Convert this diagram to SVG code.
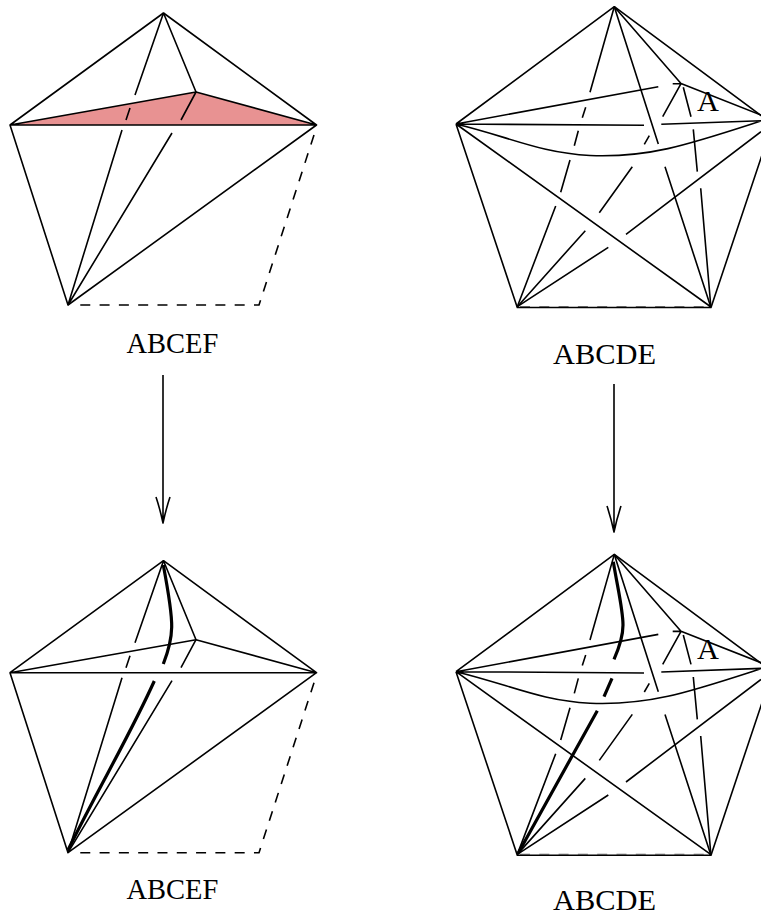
<svg xmlns="http://www.w3.org/2000/svg" width="761" height="918" viewBox="0 0 761 918">
<style>
.l{fill:none;stroke:#000;stroke-width:1.6;stroke-linecap:butt;stroke-linejoin:round}
.d{stroke-dasharray:10 9.3}
.g{fill:none;stroke:#000;stroke-width:1;stroke-opacity:.5;stroke-dasharray:10 9.3}
.h{fill:none;stroke:#000;stroke-width:3.2;stroke-linecap:butt}
text{font-family:"Liberation Serif","Times New Roman",serif;fill:#000}
.s{font-size:28.5px}
.b{font-size:30.4px}
</style>
<defs>
<path id="arrow" class="l" d="M0 0V148M-7 122Q-3 134 0 148Q3 134 7 122"/>
<g id="pentA">
<path class="l" d="M10 125L163.500 13L316.500 125L10 125L196 92L316.500 125M10 125L68 305L316.500 125"/>
<path class="l" d="M163.500 13L135 95M130 108L126 120M122 130L68 305M163.500 13L196 92L181 120M172 133L68 305"/>
<path class="l d" d="M314 135L259 305H78"/>
</g>
<g id="pentB">
<path class="l" d="M456 124L614.300 6.700L763 117M456 124L517.300 307.500H711L763 152M456 124L711 307M456 124L658.300 86.700M456 124L644 125.300M661.300 124.300L761 120.700M456 124C510 137 540 153 590 155.500C650 158 690 144 761 121"/>
<path class="g" d="M520 306.500H711"/>
<path class="l" d="M614.300 6.700L590 92.300M585.700 107.300L582.300 117.700M578.300 130.700L574.300 145.700M570 160L560.700 192.300M555.700 206L517.300 306.700"/>
<path class="l" d="M614.300 6.700L658.300 144M665 166.700L710.700 306.700M614.300 6.700L681 83.500L761 115M672.700 83.700H681L662.700 116.700M649.300 135.700L644.300 144.300M632.300 166.700L599.300 212.700M585.300 230.700L517.300 306.700"/>
<path class="l" d="M683.300 87.300L691 116.700M693.300 129.300L697.300 171.700M700.700 188.300L710.700 305M761 131.700L626 234.300M608.300 247.300L517.300 306.700"/>
<text class="b" x="697" y="111">A</text>
</g>
</defs>
<g id="node-abcef-top">
<path d="M10 125L196 92L316.500 125Z" fill="#e89292"/>
<use href="#pentA"/>
</g>
<g id="node-abcde-top">
<use href="#pentB"/>
</g>
<g id="node-abcef-bottom">
<use href="#pentA" y="547.700"/>
<path class="h" d="M163.300 565C168 590 172 612 171.700 627C171.500 640 168 652 163.300 664"/>
<path class="h" d="M154.300 681C130 735 100 785 68 850"/>
</g>
<g id="node-abcde-bottom">
<use href="#pentB" y="547.700"/>
<path class="h" d="M613.300 561.700C618 590 623 610 623 625C623 637 619 648 614 659.300M612 678.300L604 696.700M597.300 710.700L518.300 853"/>
</g>
<g id="labels">
<text class="s" x="126.500" y="353">ABCEF</text>
<text class="b" x="553" y="364">ABCDE</text>
<text class="s" x="126.500" y="899">ABCEF</text>
<text class="b" x="553" y="910">ABCDE</text>
</g>
<g id="connectors">
<use href="#arrow" x="163" y="375"/>
<use href="#arrow" x="614" y="384"/>
</g>
</svg>
